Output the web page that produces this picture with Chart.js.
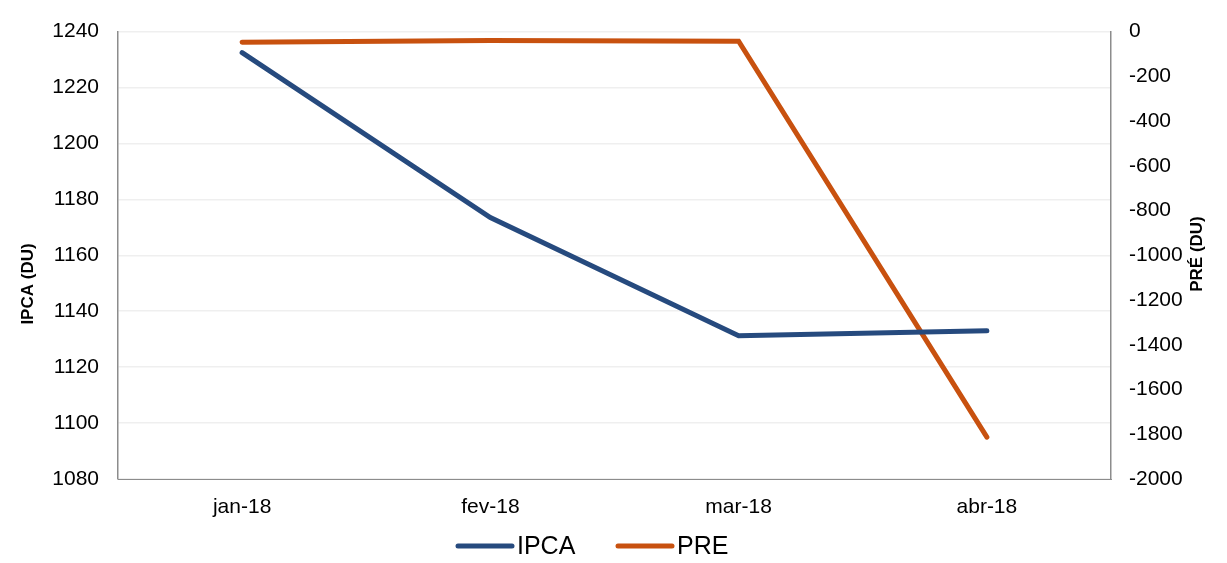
<!DOCTYPE html>
<html>
<head>
<meta charset="utf-8">
<script src="https://cdn.jsdelivr.net/npm/chart.js@4.4.1/dist/chart.umd.min.js"></script>
<style>
html,body{margin:0;padding:0;background:#fff;}
#wrap{width:1227px;height:563px;}
</style>
</head>
<body>
<div id="wrap"><canvas id="chart" width="1227" height="563"></canvas></div>
<script>
// data
const months = ["jan-18", "fev-18", "mar-18", "abr-18"];
const ipca = [1232.5, 1173.5, 1131.2, 1133];
const pre = [-48, -40, -43, -1813];

const leftTitle = "IPCA (DU)";
const rightTitle = "PRÉ (DU)";

const blue = "#264a7e";
const orange = "#c8510f";
const axisGray = "#8c8c8c";
const gridGray = "#efefef";
const font = "'Liberation Sans', Arial, sans-serif";

// axis titles + legend drawn by hand to sit where they are in the original
const extras = {
  id: "extras",
  afterDraw(chart) {
    const c = chart.ctx;
    c.save();
    c.fillStyle = "#000";
    c.font = "bold 17px " + font;
    c.textAlign = "center";
    c.textBaseline = "middle";

    c.save();
    c.translate(28, 284);
    c.rotate(-Math.PI / 2);
    c.fillText(leftTitle, 0, 0);
    c.restore();

    c.save();
    c.translate(1197, 254);
    c.rotate(-Math.PI / 2);
    c.fillText(rightTitle, 0, 0);
    c.restore();

    // legend
    const y = 546;
    const xs = [458, 618];
    c.font = "25px " + font;
    c.textAlign = "left";
    chart.data.datasets.forEach((ds, i) => {
      const x = xs[i];
      c.strokeStyle = ds.borderColor;
      c.lineWidth = 5;
      c.lineCap = "round";
      c.beginPath();
      c.moveTo(x, y);
      c.lineTo(x + 54, y);
      c.stroke();
      c.fillText(ds.label, x + 59, y + 1);
    });
    c.restore();
  }
};

const plain = v => String(v);

const ctx = document.getElementById("chart").getContext("2d");

new Chart(ctx, {
  type: "line",
  data: {
    labels: months,
    datasets: [
      {
        label: "IPCA",
        data: ipca,
        yAxisID: "y",
        borderColor: blue,
        backgroundColor: blue,
        borderWidth: 5,
        borderCapStyle: "round",
        pointRadius: 0,
        tension: 0
      },
      {
        label: "PRE",
        data: pre,
        yAxisID: "y2",
        borderColor: orange,
        backgroundColor: orange,
        borderWidth: 5,
        borderCapStyle: "round",
        pointRadius: 0,
        tension: 0
      }
    ]
  },
  options: {
    responsive: false,
    animation: false,
    layout: {padding: {top: 29, bottom: 34, left: 0, right: 0}},
    plugins: {
      legend: {display: false},
      tooltip: {enabled: false}
    },
    scales: {
      x: {
        offset: true,
        grid: {display: false, drawTicks: false},
        border: {display: true, color: axisGray, width: 1},
        ticks: {
          color: "#000",
          padding: 16,
          maxRotation: 0,
          font: {family: font, size: 21}
        },
        afterFit(s) { s.height = 50; }
      },
      y: {
        position: "left",
        min: 1080,
        max: 1240,
        grid: {color: gridGray, lineWidth: 1.5, drawTicks: false},
        border: {display: true, color: axisGray, width: 1.5},
        ticks: {
          stepSize: 20,
          color: "#000",
          padding: 19,
          callback: plain,
          font: {family: font, size: 21}
        },
        afterFit(s) { s.width = 118; }
      },
      y2: {
        position: "right",
        min: -2000,
        max: 0,
        grid: {display: false, drawTicks: false},
        border: {display: true, color: axisGray, width: 1.5},
        ticks: {
          stepSize: 200,
          color: "#000",
          padding: 18,
          callback: plain,
          font: {family: font, size: 21}
        },
        afterFit(s) { s.width = 116; }
      }
    }
  },
  plugins: [extras]
});
</script>
</body>
</html>
